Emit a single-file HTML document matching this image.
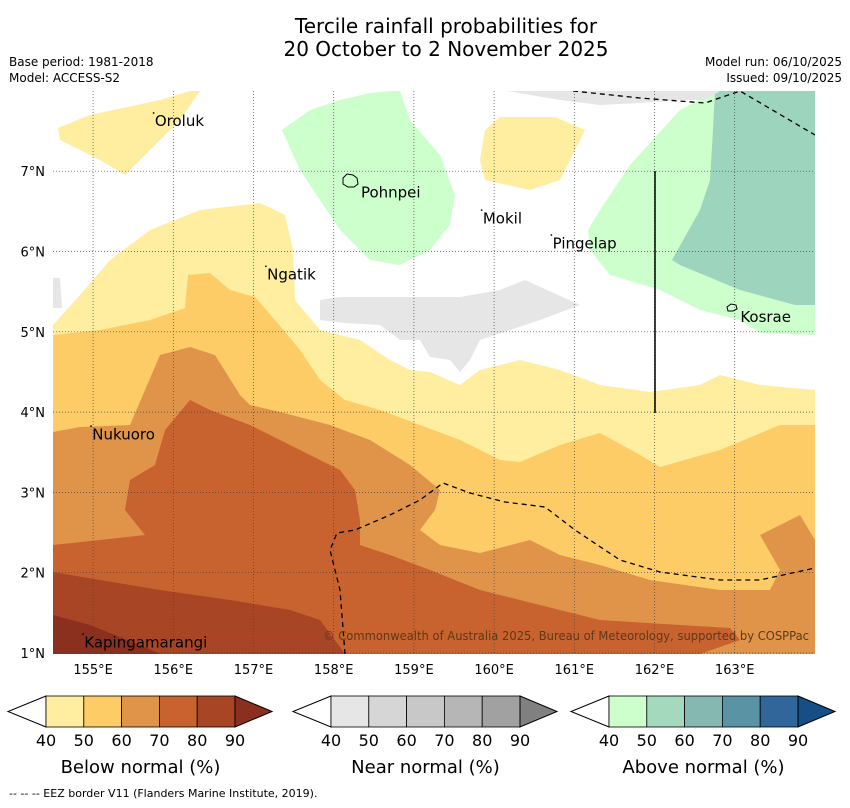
<!DOCTYPE html>
<html><head><meta charset="utf-8"><style>
html,body{margin:0;padding:0;background:#fff;}
body{width:850px;height:804px;overflow:hidden;font-family:"DejaVu Sans","Liberation Sans",sans-serif;}
svg text{font-family:"DejaVu Sans","Liberation Sans",sans-serif;}
</style></head><body>
<svg id="chart" width="850" height="804" viewBox="0 0 850 804" xmlns="http://www.w3.org/2000/svg">
<text x="446" y="33" font-size="20" text-anchor="middle">Tercile rainfall probabilities for</text>
<text x="446" y="56" font-size="20" text-anchor="middle">20 October to 2 November 2025</text>
<text x="9" y="66" font-size="12">Base period: 1981-2018</text>
<text x="9" y="82" font-size="12">Model: ACCESS-S2</text>
<text x="842" y="66" font-size="12" text-anchor="end">Model run: 06/10/2025</text>
<text x="842" y="82" font-size="12" text-anchor="end">Issued: 09/10/2025</text>
<defs><clipPath id="mapclip"><rect x="53" y="91" width="762" height="563"/></clipPath></defs>
<g id="map" clip-path="url(#mapclip)">
<rect x="53" y="91" width="762" height="563" fill="#fff"/>
<polygon fill="#ffeda0" points="53,325 80,295 110,260 150,230 200,210 260,203 285,215 293,250 295,300 320,330 360,340 390,360 410,370 430,372 460,385 480,370 520,360 560,370 600,385 650,392 700,385 720,375 760,385 815,390 815,654 53,654"/>
<polygon fill="#ffeda0" points="58,128 90,115 160,100 190,91 200,91 180,120 150,150 125,175 100,160 60,140"/>
<polygon fill="#ffeda0" points="485,130 500,117 555,117 585,130 575,150 560,180 530,190 485,180 480,160"/>
<polygon fill="#fecc66" points="53,335 100,330 150,320 185,308 188,275 210,273 230,290 255,297 275,320 300,350 320,380 345,400 380,410 420,425 460,440 500,460 520,462 560,445 600,433 640,455 660,467 720,450 780,425 815,425 815,654 53,654"/>
<polygon fill="#e0944a" points="53,432 80,427 130,425 145,390 160,355 190,347 215,355 240,395 250,405 280,412 330,425 370,440 410,465 440,490 435,510 420,530 440,545 480,553 530,540 560,555 600,565 650,580 720,590 770,590 780,570 760,535 800,515 815,540 815,654 53,654"/>
<polygon fill="#c8622f" points="53,545 100,540 145,535 125,510 130,480 155,465 165,430 190,400 210,410 250,425 290,445 340,470 355,490 360,520 360,545 390,555 430,570 480,590 540,605 600,620 680,625 730,628 740,640 700,654 53,654"/>
<polygon fill="#a84525" points="53,572 100,580 160,590 230,600 290,610 320,620 345,654 53,654"/>
<polygon fill="#8b2f1f" points="53,615 90,625 140,645 160,654 53,654"/>
<polygon fill="#ccffcc" points="282,130 310,110 340,100 370,93 390,91 400,91 410,120 440,155 455,195 450,225 430,250 400,265 370,260 340,230 320,200 300,170"/>
<polygon fill="#ccffcc" points="600,210 630,165 680,110 715,91 815,91 815,335 760,333 740,320 700,310 660,290 610,275 590,250 588,230"/>
<polygon fill="#9dd4bd" points="715,91 815,91 815,305 795,305 740,290 680,265 672,260 700,210 710,180 713,130"/>
<polygon fill="#e6e6e6" points="320,300 340,297 400,297 460,297 500,290 525,280 580,305 540,320 510,330 480,340 470,360 460,372 450,360 430,357 420,340 400,340 380,325 345,323 320,320"/>
<polygon fill="#e6e6e6" points="507,91 560,100 600,105 640,103 680,100 705,100 720,91"/>
<polygon fill="#e6e6e6" points="53,278 60,278 62,308 53,308"/>
<g id="grid"></g>
<polyline fill="none" stroke="#000" stroke-width="1.3" stroke-dasharray="5,4" points="573,91 640,98 705,103 740,91 815,135"/>
<polyline fill="none" stroke="#000" stroke-width="1.3" stroke-dasharray="5,4" points="345,654 340,590 330,550 337,533 355,530 390,515 420,500 443,483 470,493 505,502 545,507 575,530 620,560 660,572 720,580 760,580 815,568"/>
<line x1="655" y1="171" x2="655" y2="413" stroke="#000" stroke-width="1.5"/>
<path d="M343,178 l4,-4 6,1 4,3 1,6 -4,3 -6,0 -5,-3z" fill="none" stroke="#000" stroke-width="1"/>
<path d="M727,307 l4,-3 5,1 1,4 -4,2 -5,0z" fill="none" stroke="#000" stroke-width="1"/>
<g id="places"></g>
<text x="323" y="640" font-size="12" fill="#5a3a1a" textLength="486" lengthAdjust="spacingAndGlyphs">© Commonwealth of Australia 2025, Bureau of Meteorology, supported by COSPPac</text>
</g>
<g id="axes"></g>
<g id="legend"></g>
<text x="9" y="797" font-size="11">--  --  -- EEZ border V11 (Flanders Marine Institute, 2019).</text>
</svg>
<script>
const lonTicks=[155,156,157,158,159,160,161,162,163];
const latTicks=[1,2,3,4,5,6,7];
const placeNames=["Oroluk","Pohnpei","Mokil","Pingelap","Ngatik","Kosrae","Nukuoro","Kapingamarangi"];
const placeLons=[155.77,158.34,159.86,160.73,157.17,163.07,154.99,154.89];
const placeLats=[7.56,6.67,6.35,6.04,5.65,5.12,3.66,1.07];
const placeMarker=[true,false,true,true,true,false,true,true];
const legendTitles=["Below normal (%)","Near normal (%)","Above normal (%)"];
const legendTicks=[40,50,60,70,80,90];
const belowColors=["#ffeda0","#fecc66","#e0944a","#c8622f","#a84525","#8b2f1f"];
const nearColors=["#e6e6e6","#d6d6d6","#c8c8c8","#b6b6b6","#a1a1a1","#808080"];
const aboveColors=["#ccffcc","#a5d9bd","#84b8b0","#5a93a3","#306699","#154f85"];
const NS="http://www.w3.org/2000/svg";
function X(lon){return 53+(lon-154.5)*80.2;}
function Y(lat){return 653-(lat-1)*80.3;}
function mk(tag,attrs,parent,txt){const e=document.createElementNS(NS,tag);for(const k in attrs)e.setAttribute(k,attrs[k]);if(txt!==undefined)e.textContent=txt;parent.appendChild(e);return e;}
const grid=document.getElementById('grid'),axes=document.getElementById('axes'),places=document.getElementById('places'),legend=document.getElementById('legend');
lonTicks.forEach(v=>{
 const l=mk('line',{x1:X(v),x2:X(v),y1:91,y2:654,stroke:'#444','stroke-width':0.7,'stroke-dasharray':'1,2'},grid);
 
 
 const t=mk('text',{x:X(v),y:674,'font-size':13,'text-anchor':'middle'},axes,v+'°E');
 
 
});
latTicks.forEach(v=>{
 const l=mk('line',{x1:53,x2:815,y1:Y(v),y2:Y(v),stroke:'#444','stroke-width':0.7,'stroke-dasharray':'1,2'},grid);
 
 
 const t=mk('text',{x:45,y:Y(v)+5,'font-size':13,'text-anchor':'end'},axes,v+'°N');
 
 
});
placeNames.forEach((n,i)=>{
 if(placeMarker[i]){
  const d=mk('rect',{x:X(placeLons[i])-2,y:Y(placeLats[i])-14,width:1.5,height:1.5,fill:'#000'},places);
  
  
 }
 const t=mk('text',{x:X(placeLons[i]),y:Y(placeLats[i]),'font-size':15},places,n);
 
 
});
const bars=[{x:46,cols:belowColors},{x:331,cols:nearColors},{x:609,cols:aboveColors}];
const segW=37.8,by=696,bh=31;
bars.forEach((b,bi)=>{
 const g=mk('g',{},legend);
 
 
 mk('polygon',{points:`${b.x},${by} ${b.x-38},${by+bh/2} ${b.x},${by+bh}`,fill:'#fff',stroke:'#000','stroke-width':1},g);
 for(let i=0;i<5;i++){mk('rect',{x:b.x+i*segW,y:by,width:segW,height:bh,fill:b.cols[i],stroke:'#000','stroke-width':0.8},g);}
 const e=b.x+5*segW;
 mk('polygon',{points:`${e},${by} ${e+37},${by+bh/2} ${e},${by+bh}`,fill:b.cols[5],stroke:'#000','stroke-width':1},g);
 legendTicks.forEach((v,i)=>{mk('text',{x:b.x+i*segW,y:746,'font-size':16,'text-anchor':'middle'},g,String(v));});
 const t=mk('text',{x:b.x+2.5*segW,y:773,'font-size':18,'text-anchor':'middle'},g,legendTitles[bi]);
 
 
});
</script>
</body></html>
